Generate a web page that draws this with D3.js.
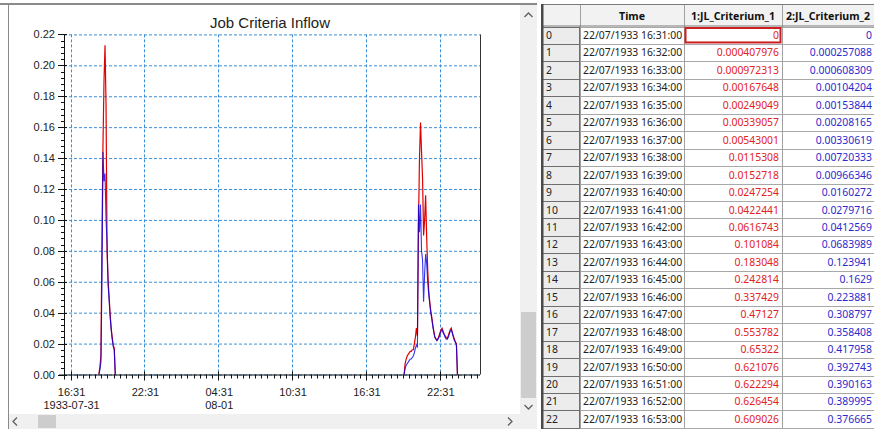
<!DOCTYPE html>
<html><head><meta charset="utf-8">
<script src="https://cdn.jsdelivr.net/npm/d3@7"></script>
<style>body{margin:0;background:#fff;overflow:hidden}svg{display:block}</style>
</head><body><svg id="c" width="874" height="429"></svg>
<script>
// ---------------- data ----------------
const chartTitle = "Job Criteria Inflow";
const sampleMinutes = 5;
const spike1Start = "1933-07-31T18:49";
const spike1Red  = [0, 0.005, 0.012, 0.087, 0.148, 0.190, 0.213, 0.174, 0.079, 0.061, 0.050, 0.039, 0.030, 0.024, 0.019, 0.017, 0];
const spike1Blue = [0, 0.003, 0.008, 0.060, 0.144, 0.125, 0.130, 0.100, 0.085, 0.058, 0.048, 0.037, 0.029, 0.023, 0.018, 0.016, 0];
const spike2Start = "1933-08-01T19:37";
const spike2Red  = [0, 0.007, 0.010, 0.012, 0.013, 0.014, 0.015, 0.015, 0.016, 0.016, 0.020, 0.024, 0.030, 0.025,
  0.095, 0.140, 0.163, 0.144, 0.127, 0.090, 0.100, 0.116, 0.089, 0.068, 0.054, 0.047, 0.041, 0.037, 0.032, 0.028,
  0.024, 0.023, 0.022, 0.023, 0.025, 0.027, 0.029, 0.030, 0.028, 0.026, 0.025, 0.024, 0.023, 0.025, 0.027, 0.029,
  0.030, 0.027, 0.025, 0.023, 0.021, 0.020, 0];
const spike2Blue = [0, 0.004, 0.006, 0.007, 0.008, 0.009, 0.010, 0.010, 0.011, 0.012, 0.014, 0.017, 0.019, 0.018,
  0.110, 0.092, 0.110, 0.080, 0.074, 0.047, 0.065, 0.078, 0.072, 0.060, 0.052, 0.046, 0.040, 0.036, 0.031, 0.027,
  0.024, 0.023, 0.022, 0.023, 0.024, 0.026, 0.028, 0.029, 0.027, 0.026, 0.024, 0.023, 0.023, 0.024, 0.026, 0.028,
  0.029, 0.027, 0.024, 0.022, 0.021, 0.019, 0];
const xDomain = ["1933-07-31T15:59", "1933-08-02T01:47"];
const xTickTimes  = ["1933-07-31T16:31","1933-07-31T22:31","1933-08-01T04:31","1933-08-01T10:31","1933-08-01T16:31","1933-08-01T22:31"];
const xTickLabels = ["16:31","22:31","04:31","10:31","16:31","22:31"];
const xTickDates  = ["1933-07-31","","08-01","","",""];
const yTicks = [0,0.02,0.04,0.06,0.08,0.10,0.12,0.14,0.16,0.18,0.20,0.22];

const tableColumns = ["Time","1:JL_Criterium_1","2:JL_Criterium_2"];
const tableTimes = ["22/07/1933 16:31:00","22/07/1933 16:32:00","22/07/1933 16:33:00","22/07/1933 16:34:00",
  "22/07/1933 16:35:00","22/07/1933 16:36:00","22/07/1933 16:37:00","22/07/1933 16:38:00","22/07/1933 16:39:00",
  "22/07/1933 16:40:00","22/07/1933 16:41:00","22/07/1933 16:42:00","22/07/1933 16:43:00","22/07/1933 16:44:00",
  "22/07/1933 16:45:00","22/07/1933 16:46:00","22/07/1933 16:47:00","22/07/1933 16:48:00","22/07/1933 16:49:00",
  "22/07/1933 16:50:00","22/07/1933 16:51:00","22/07/1933 16:52:00","22/07/1933 16:53:00"];
const tableCrit1 = ["0","0.000407976","0.000972313","0.00167648","0.00249049","0.00339057","0.00543001","0.0115308",
  "0.0152718","0.0247254","0.0422441","0.0616743","0.101084","0.183048","0.242814","0.337429","0.47127","0.553782",
  "0.65322","0.621076","0.622294","0.626454","0.609026"];
const tableCrit2 = ["0","0.000257088","0.000608309","0.00104204","0.00153844","0.00208165","0.00330619","0.00720333",
  "0.00966346","0.0160272","0.0279716","0.0412569","0.0683989","0.123941","0.1629","0.223881","0.308797","0.358408",
  "0.417958","0.392743","0.390163","0.389995","0.376665"];

// ---------------- drawing ----------------
const svg = d3.select("#c");
const parse = d3.timeParse("%Y-%m-%dT%H:%M");
const FONT = "'Liberation Sans', Arial, sans-serif";
const TFONT = "'Noto Sans', 'Open Sans', sans-serif";

const plot = {left: 64, right: 480, top: 34.4, bottom: 374.5};
const x = d3.scaleTime().domain(xDomain.map(parse)).range([plot.left, plot.right]);
const y = d3.scaleLinear().domain([0, 0.22]).range([plot.bottom, plot.top]);

// panel frame
svg.append("rect").attr("x",0).attr("y",0).attr("width",874).attr("height",429).attr("fill","#fff");
svg.append("line").attr("x1",0).attr("x2",540).attr("y1",4).attr("y2",4).attr("stroke","#8a8a8a").attr("stroke-width",2);
svg.append("line").attr("x1",8.5).attr("x2",8.5).attr("y1",4).attr("y2",429).attr("stroke","#8a8a8a").attr("stroke-width",1);

// title
svg.append("text").attr("x",270).attr("y",27.5).attr("text-anchor","middle")
  .attr("font-family",FONT).attr("font-size",15).attr("fill","#222").text(chartTitle);

// grid
const gridColor = "#3b8fd8";
svg.append("g").selectAll("line").data(yTicks).join("line")
  .attr("x1",plot.left).attr("x2",plot.right).attr("y1",d=>y(d)+0.5).attr("y2",d=>y(d)+0.5)
  .attr("stroke",gridColor).attr("stroke-dasharray","3,2").attr("stroke-width",1);
svg.append("g").selectAll("line").data(xTickTimes.map(parse)).join("line")
  .attr("x1",d=>Math.round(x(d))+0.5).attr("x2",d=>Math.round(x(d))+0.5).attr("y1",plot.top).attr("y2",plot.bottom)
  .attr("stroke",gridColor).attr("stroke-dasharray","3,2").attr("stroke-width",1);

// series
function series(startStr, vals){
  const s = parse(startStr);
  return vals.map((v,i)=>({t:new Date(s.getTime()+i*sampleMinutes*60000), v}));
}
const line = d3.line().x(d=>x(d.t)).y(d=>y(d.v));
const redSeries = [series(spike1Start, spike1Red), series(spike2Start, spike2Red)];
const blueSeries = [series(spike1Start, spike1Blue), series(spike2Start, spike2Blue)];
svg.append("g").selectAll("path").data(redSeries).join("path").attr("d",line)
  .attr("fill","none").attr("stroke","#e00000").attr("stroke-width",1.2);
svg.append("g").selectAll("path").data(blueSeries).join("path").attr("d",line)
  .attr("fill","none").attr("stroke","#0000e8").attr("stroke-width",1.1).attr("stroke-opacity",0.8);

// axes lines
const axisColor = "#111";
svg.append("line").attr("x1",plot.left+0.5).attr("x2",plot.left+0.5).attr("y1",plot.top).attr("y2",plot.bottom+5).attr("stroke",axisColor);
svg.append("line").attr("x1",plot.left-5).attr("x2",plot.right).attr("y1",plot.bottom+0.5).attr("y2",plot.bottom+0.5).attr("stroke",axisColor);
svg.append("line").attr("x1",plot.right+0.5).attr("x2",plot.right+0.5).attr("y1",plot.top).attr("y2",plot.bottom).attr("stroke","#333");

// y ticks
const yMinor = d3.range(0, 0.2201, 0.004);
svg.append("g").selectAll("line").data(yMinor).join("line")
  .attr("x1",plot.left-3).attr("x2",plot.left).attr("y1",d=>Math.round(y(d))+0.5).attr("y2",d=>Math.round(y(d))+0.5).attr("stroke",axisColor);
svg.append("g").selectAll("line").data(yTicks).join("line")
  .attr("x1",plot.left-6).attr("x2",plot.left+3).attr("y1",d=>Math.round(y(d))+0.5).attr("y2",d=>Math.round(y(d))+0.5).attr("stroke",axisColor);
svg.append("g").selectAll("text").data(yTicks).join("text")
  .attr("x",55).attr("y",d=>y(d)+4).attr("text-anchor","end")
  .attr("font-family",FONT).attr("font-size",11).attr("fill","#222").text(d=>d3.format(".2f")(d));

// x ticks
const firstMajor = parse(xTickTimes[0]);
const xMinor = [];
for (let t = new Date(firstMajor.getTime()-30*60000); t <= x.domain()[1]; t = new Date(t.getTime()+30*60000)) {
  if (t >= x.domain()[0]) xMinor.push(t);
}
svg.append("g").selectAll("line").data(xMinor).join("line")
  .attr("x1",d=>Math.round(x(d))+0.5).attr("x2",d=>Math.round(x(d))+0.5).attr("y1",plot.bottom).attr("y2",plot.bottom+4).attr("stroke",axisColor);
svg.append("g").selectAll("line").data(xTickTimes.map(parse)).join("line")
  .attr("x1",d=>Math.round(x(d))+0.5).attr("x2",d=>Math.round(x(d))+0.5).attr("y1",plot.bottom-3).attr("y2",plot.bottom+6).attr("stroke",axisColor);
const xl = svg.append("g").selectAll("g").data(xTickTimes.map((t,i)=>({t:parse(t), a:xTickLabels[i], b:xTickDates[i]}))).join("g");
xl.append("text").attr("x",d=>x(d.t)+1).attr("y",396).attr("text-anchor","middle")
  .attr("font-family",FONT).attr("font-size",11).attr("fill","#222").text(d=>d.a);
xl.append("text").attr("x",d=>x(d.t)+1).attr("y",409).attr("text-anchor","middle")
  .attr("font-family",FONT).attr("font-size",11).attr("fill","#222").text(d=>d.b);

// scrollbars
function chevron(cx, cy, dir){
  const p = {up:`M${cx-4},${cy+2}L${cx},${cy-2}L${cx+4},${cy+2}`,
             down:`M${cx-4},${cy-2}L${cx},${cy+2}L${cx+4},${cy-2}`,
             left:`M${cx+2},${cy-4}L${cx-2},${cy}L${cx+2},${cy+4}`,
             right:`M${cx-2},${cy-4}L${cx+2},${cy}L${cx-2},${cy+4}`}[dir];
  svg.append("path").attr("d",p).attr("fill","none").attr("stroke","#606060").attr("stroke-width",1.3);
}
svg.append("rect").attr("x",520).attr("y",5).attr("width",17).attr("height",409).attr("fill","#f0f0f0");
svg.append("rect").attr("x",521).attr("y",312).attr("width",15).attr("height",86).attr("fill","#cdcdcd");
chevron(528.5,15,"up"); chevron(528.5,407,"down");
svg.append("rect").attr("x",9).attr("y",414).attr("width",528).attr("height",15).attr("fill","#f0f0f0");
svg.append("rect").attr("x",38).attr("y",415).attr("width",18).attr("height",13).attr("fill","#cdcdcd");
chevron(15,421.5,"left"); chevron(510,421.5,"right");
svg.append("rect").attr("x",537).attr("y",0).attr("width",4).attr("height",429).attr("fill","#fff");

// ---------------- table ----------------
const tbl = svg.append("g");
const colX = [541, 580, 684, 782, 900];
const headTop = 4, headBot = 26.5, rowH = 17.45;
const nRows = tableTimes.length + 1;
// header
tbl.append("rect").attr("x",541).attr("y",headTop).attr("width",340).attr("height",headBot-headTop).attr("fill","#f2f2f2");
// index column
tbl.append("rect").attr("x",541).attr("y",headBot).attr("width",colX[1]-541).attr("height",429-headBot).attr("fill","#ececec");
// row lines
const rowYs = d3.range(nRows+1).map(i=>headBot+i*rowH);
tbl.append("g").selectAll("line").data(rowYs).join("line")
  .attr("x1",543).attr("x2",874).attr("y1",d=>Math.round(d)+0.5).attr("y2",d=>Math.round(d)+0.5)
  .attr("stroke","#a8a8a8");
tbl.append("g").selectAll("line").data(rowYs).join("line")
  .attr("x1",543).attr("x2",colX[1]).attr("y1",d=>Math.round(d)+0.5).attr("y2",d=>Math.round(d)+0.5)
  .attr("stroke","#6e6e6e");
// column lines
tbl.append("g").selectAll("line").data(colX.slice(1,4)).join("line")
  .attr("x1",d=>d+0.5).attr("x2",d=>d+0.5).attr("y1",headTop).attr("y2",429).attr("stroke","#a0a0a0");
tbl.append("line").attr("x1",colX[1]-0.5).attr("x2",colX[1]-0.5).attr("y1",headBot).attr("y2",429).attr("stroke","#6e6e6e");
tbl.append("line").attr("x1",541).attr("x2",874).attr("y1",headTop+0.5).attr("y2",headTop+0.5).attr("stroke","#7a7a7a");
tbl.append("line").attr("x1",541).attr("x2",874).attr("y1",headBot-0.5).attr("y2",headBot-0.5).attr("stroke","#7a7a7a");
tbl.append("rect").attr("x",541).attr("y",headTop).attr("width",2.5).attr("height",429-headTop).attr("fill","#4a4a4a");

// header text
const headCenters = [(colX[1]+colX[2])/2, (colX[2]+colX[3])/2, 828];
tbl.append("g").selectAll("text").data(tableColumns).join("text")
  .attr("x",(d,i)=>headCenters[i]).attr("y",19.5).attr("text-anchor","middle")
  .attr("font-family",TFONT).attr("font-weight","bold").attr("font-size",10.6).attr("fill","#111").text(d=>d);

// rows
const rows = tbl.append("g").selectAll("g").data(tableTimes.map((t,i)=>({i,t,a:tableCrit1[i],b:tableCrit2[i]}))).join("g")
  .attr("transform",d=>`translate(0,${headBot + d.i*rowH + rowH/2 + 3.8})`);
rows.append("text").attr("x",546).attr("font-family",TFONT).attr("font-size",10.4).attr("fill","#222").text(d=>d.i);
rows.append("text").attr("x",583).attr("font-family",TFONT).attr("font-size",10.4).attr("fill","#222").text(d=>d.t);
rows.append("text").attr("x",779).attr("text-anchor","end").attr("font-family",TFONT).attr("font-size",10.4).attr("fill","#e32222").text(d=>d.a);
rows.append("text").attr("x",872).attr("text-anchor","end").attr("font-family",TFONT).attr("font-size",10.4).attr("fill","#2a2acc").text(d=>d.b);

// selected cell
tbl.append("rect").attr("x",colX[2]+1.5).attr("y",headBot+1.5).attr("width",colX[3]-colX[2]-3).attr("height",rowH-3)
  .attr("fill","none").attr("stroke","#cc1f1f").attr("stroke-width",2);
</script></body></html>
